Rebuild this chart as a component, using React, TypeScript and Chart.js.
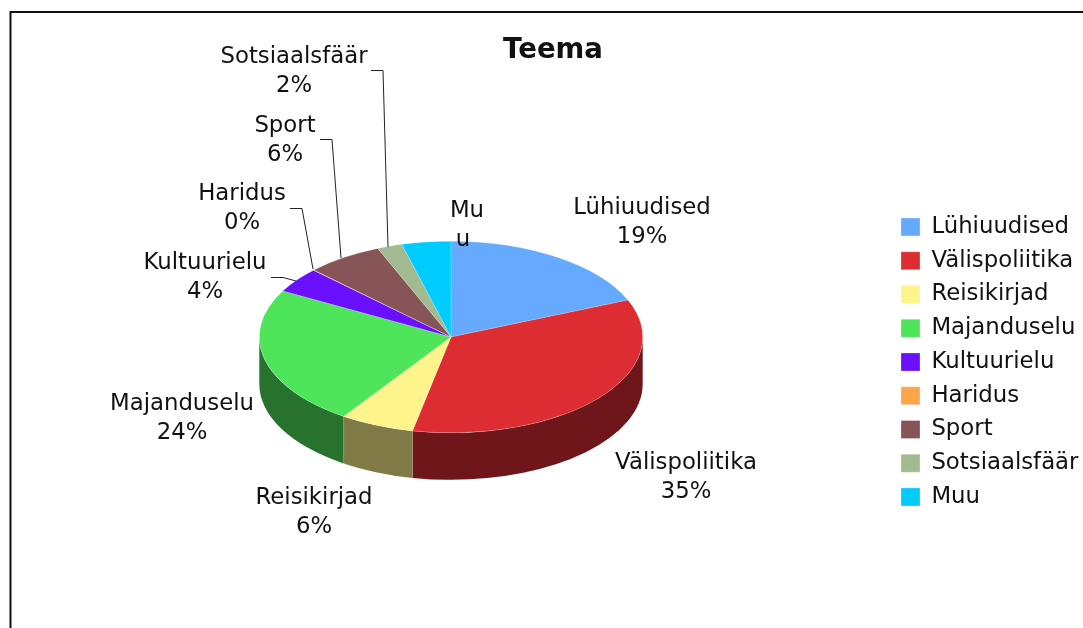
import React, { useEffect, useRef } from "react";
import { Chart, registerables } from "chart.js";

Chart.register(...registerables);

const categories = ["Lühiuudised", "Välispoliitika", "Reisikirjad", "Majanduselu", "Kultuurielu", "Haridus", "Sport", "Sotsiaalsfäär", "Muu"];
const shares = [18.7, 34.52, 6.25, 23.5, 4.3, 0.05, 6.45, 2.1, 4.13];
const topColors = ["#66aaff", "#dd2d33", "#fff38c", "#4ee55b", "#6a10ff", "#ffa64d", "#875558", "#a2ba90", "#00ccff"];
const sideColors = ["#33557f", "#6e161a", "#807a46", "#27722d", "#350880", "#805326", "#442a2c", "#515d48", "#006680"];

const FONT = '"DejaVu Sans", Verdana, sans-serif';
const TEXT = "#111111";
const CX = 451, CY = 337, RX = 192, RY = 96, DEPTH = 47;
const LEGEND_X = 901, LEGEND_FIRST_Y = 227, LEGEND_STEP = 33.75, FONT_SIZE = 22.8, TITLE_SIZE = 27.6;

// Annotation layout: centre of each label's first line and its leader line.
const labelLayout: { x: number; y: number; leader?: number[][]; split?: number }[] = [
  { x: 642, y: 208 },
  { x: 686, y: 463 },
  { x: 314, y: 498 },
  { x: 182, y: 404 },
  { x: 205, y: 263, leader: [[271, 277.5], [283, 277.5], [296, 281]] },
  { x: 242, y: 194, leader: [[290, 208.5], [302, 208.5], [313, 269]] },
  { x: 285, y: 126, leader: [[320, 139.5], [332, 139.5], [341, 258]] },
  { x: 294, y: 57, leader: [[371, 70.5], [383, 70.5], [388, 247]] },
  { x: 465, y: 211, split: 2 },
];

const framePlugin = {
  id: "frame",
  beforeDraw(chart: any) {
    const { ctx, width, height } = chart;
    ctx.save();
    ctx.fillStyle = "#ffffff";
    ctx.fillRect(0, 0, width, height);
    ctx.strokeStyle = "#111111";
    ctx.lineWidth = 2;
    ctx.beginPath();
    ctx.moveTo(10.5, height);
    ctx.lineTo(10.5, 12);
    ctx.lineTo(width, 12);
    ctx.stroke();
    ctx.restore();
  },
};

const placementPlugin = {
  id: "placement",
  afterLayout(chart: any) {
    // Square pie box: squashed in y when drawn.
    const area = chart.chartArea;
    area.left = CX - RX;
    area.right = CX + RX;
    area.top = CY - RX;
    area.bottom = CY + RX;
    area.width = 2 * RX;
    area.height = 2 * RX;

    const legend = chart.legend;
    const pad = legend.options.labels.padding;
    const itemH = Math.max(FONT_SIZE, legend.options.labels.boxHeight);
    legend.left = LEGEND_X - pad;
    legend.right = legend.left + legend.width;
    legend.top = LEGEND_FIRST_Y - itemH / 2 - pad;
    legend.bottom = legend.top + legend.height;

    const title = chart.titleBlock;
    title.left = 553 - 150;
    title.right = 553 + 150;
    title.top = 51 - (TITLE_SIZE * 1.2) / 2;
    title.bottom = title.top + TITLE_SIZE * 1.2;
  },
};

const pie3dPlugin = {
  id: "pie3d",
  beforeDatasetsDraw(chart: any) {
    const { ctx } = chart;
    const arcs = chart.getDatasetMeta(0).data;
    ctx.save();
    arcs.forEach((arc: any, i: number) => {
      const lo = Math.max(arc.startAngle, 0);
      const hi = Math.min(arc.endAngle, Math.PI);
      if (hi <= lo) return;
      ctx.beginPath();
      ctx.ellipse(arc.x, arc.y, arc.outerRadius, arc.outerRadius * (RY / RX), 0, lo, hi);
      ctx.ellipse(arc.x, arc.y + DEPTH, arc.outerRadius, arc.outerRadius * (RY / RX), 0, hi, lo, true);
      ctx.closePath();
      ctx.fillStyle = sideColors[i];
      ctx.fill();
      if (arc.endAngle < Math.PI) {
        const px = arc.x + arc.outerRadius * Math.cos(hi);
        const py = arc.y + arc.outerRadius * (RY / RX) * Math.sin(hi);
        ctx.strokeStyle = "rgba(255,255,255,0.45)";
        ctx.lineWidth = 0.7;
        ctx.beginPath();
        ctx.moveTo(px, py);
        ctx.lineTo(px, py + DEPTH);
        ctx.stroke();
      }
    });
    ctx.restore();
    ctx.save();
    ctx.translate(CX, CY);
    ctx.scale(1, RY / RX);
    ctx.translate(-CX, -CY);
  },
  afterDatasetsDraw(chart: any) {
    const { ctx } = chart;
    ctx.restore();
    ctx.save();
    ctx.font = `${FONT_SIZE}px ${FONT}`;
    ctx.fillStyle = TEXT;
    ctx.textAlign = "center";
    ctx.textBaseline = "middle";
    const total = shares.reduce((a, b) => a + b, 0);
    categories.forEach((name, i) => {
      const l = labelLayout[i];
      const pct = `${Math.round((shares[i] / total) * 100)}%`;
      if (l.split) {
        ctx.fillText(name.slice(0, l.split), l.x + 2, l.y);
        ctx.fillText(name.slice(l.split), l.x - 2, l.y + 29);
      } else {
        ctx.fillText(name, l.x, l.y);
        ctx.fillText(pct, l.x, l.y + 29);
      }
      if (l.leader) {
        ctx.strokeStyle = "#222222";
        ctx.lineWidth = 1;
        ctx.beginPath();
        l.leader.forEach(([x, y], k) => (k ? ctx.lineTo(x, y) : ctx.moveTo(x, y)));
        ctx.stroke();
      }
    });
    ctx.restore();
  },
};

export default function App() {
  const ref = useRef<HTMLCanvasElement>(null);
  useEffect(() => {
    const chart = new Chart(ref.current!, {
      type: "pie",
      data: {
        labels: categories,
        datasets: [
          {
            data: shares,
            backgroundColor: topColors,
            borderWidth: 0.6,
            borderColor: "rgba(255,255,255,0.45)",
            clip: false,
          } as any,
        ],
      },
      options: {
        responsive: false,
        animation: false,
        layout: { padding: 0 },
        plugins: {
          title: {
            display: true,
            text: "Teema",
            color: TEXT,
            padding: 0,
            font: { family: FONT, size: TITLE_SIZE, weight: "bold", lineHeight: 1.2 },
          },
          legend: {
            position: "right",
            align: "start",
            labels: {
              boxWidth: 19,
              boxHeight: 18,
              padding: LEGEND_STEP - FONT_SIZE,
              color: TEXT,
              font: { family: FONT, size: FONT_SIZE },
            },
          },
          tooltip: { enabled: false },
        },
      },
      plugins: [framePlugin, placementPlugin, pie3dPlugin],
    } as any);
    return () => chart.destroy();
  }, []);
  return (
    <div style={{ position: "fixed", left: 0, top: 0, width: 1083, height: 628, overflow: "hidden" }}>
      <canvas ref={ref} width={1083} height={628} style={{ display: "block" }} />
    </div>
  );
}
